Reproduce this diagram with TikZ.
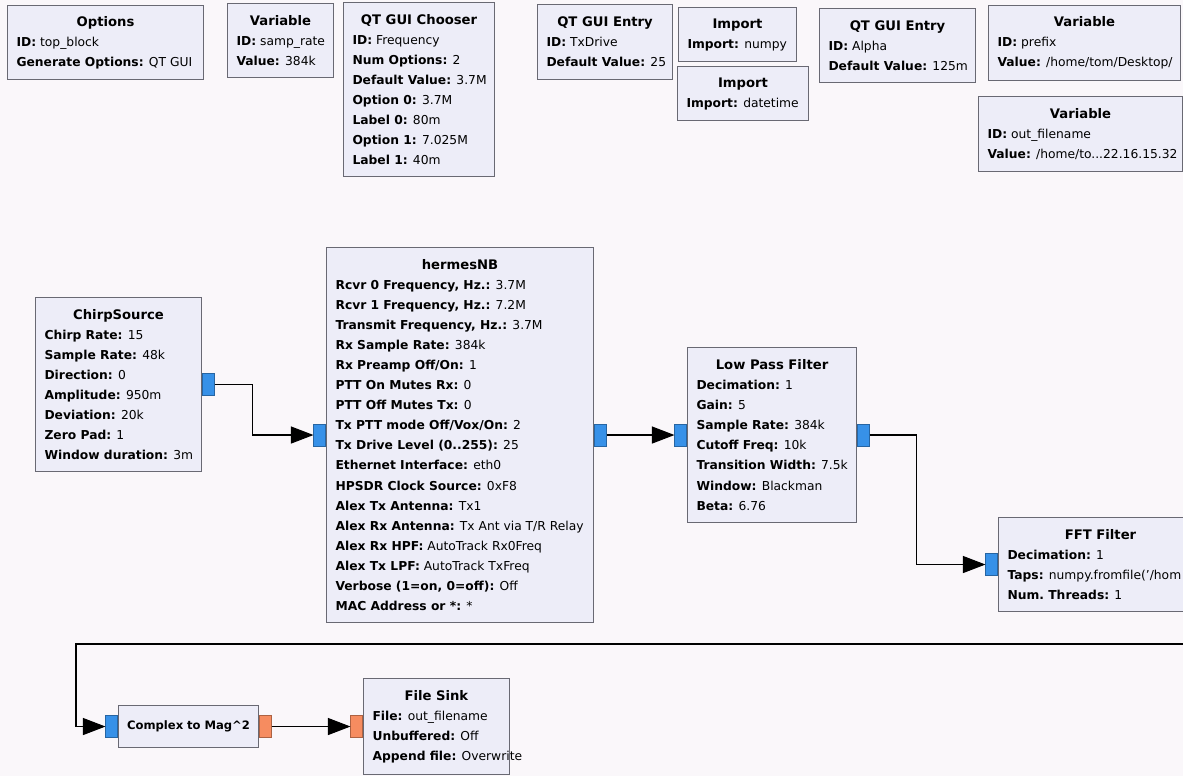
\documentclass[tikz,border=0pt]{standalone}
\usepackage{fontspec}
\setmainfont{DejaVu Sans}
\usetikzlibrary{arrows.meta}
\definecolor{canvas}{RGB}{250,247,250}
\definecolor{blockfill}{RGB}{237,237,248}
\definecolor{blockline}{RGB}{105,105,115}
\definecolor{portblue}{RGB}{55,145,232}
\definecolor{portorange}{RGB}{246,140,96}
\newlength\px
\setlength\px{0.02cm}
\newcommand\blocktitle[1]{\hfill\mbox{\fontsize{7.5}{11.4}\selectfont\textbf{#1}}\hfill\null}
\newcommand\prm[2]{\mbox{\textbf{#1:} #2}}

\begin{document}
\begin{tikzpicture}[x=0.02cm, y=-0.02cm,
  block/.style={rectangle, draw=blockline, fill=blockfill, line width=0.6pt, anchor=north west,
    align=flush left, inner xsep=9\px, inner ysep=2\px, font=\fontsize{7}{11.4}\selectfont},
  port/.style={rectangle, minimum width=12\px, minimum height=22\px, inner sep=0pt,
    fill=portblue, draw=portblue!70!black, line width=0.3pt},
  inport/.style={port, anchor=east},
  outport/.style={port, anchor=west},
  floatport/.style={fill=portorange, draw=portorange!70!black},
  wire/.style={draw=black, line width=0.6pt, -{Triangle[length=4.5mm,width=3.4mm]}}
]
\path[use as bounding box, fill=canvas] (0,0) rectangle (1183,776);
\clip (0,0) rectangle (1183,776);

\node[block, text width=178\px, minimum height=74\px] (options) at (7,5)
  {\blocktitle{Options}\\\prm{ID}{top\_block}\\\prm{Generate Options}{QT GUI}};
\node[block, text width=88\px, minimum height=74\px] (samprate) at (227,3)
  {\blocktitle{Variable}\\\prm{ID}{samp\_rate}\\\prm{Value}{384k}};
\node[block, text width=133\px, minimum height=174\px] (chooser) at (343,2)
  {\blocktitle{QT GUI Chooser}\\\prm{ID}{Frequency}\\\prm{Num Options}{2}\\\prm{Default Value}{3.7M}\\
   \prm{Option 0}{3.7M}\\\prm{Label 0}{80m}\\\prm{Option 1}{7.025M}\\\prm{Label 1}{40m}};
\node[block, text width=117\px, minimum height=75\px] (txdrive) at (537,4)
  {\blocktitle{QT GUI Entry}\\\prm{ID}{TxDrive}\\\prm{Default Value}{25}};
\node[block, text width=100\px, minimum height=54\px] (numpy) at (678,7)
  {\blocktitle{Import}\\\prm{Import}{numpy}};
\node[block, text width=113\px, minimum height=54\px] (datetime) at (677,66)
  {\blocktitle{Import}\\\prm{Import}{datetime}};
\node[block, text width=138\px, minimum height=74\px] (alpha) at (819,8)
  {\blocktitle{QT GUI Entry}\\\prm{ID}{Alpha}\\\prm{Default Value}{125m}};
\node[block, text width=174\px, minimum height=75\px] (prefix) at (988,5)
  {\blocktitle{Variable}\\\prm{ID}{prefix}\\\prm{Value}{/home/tom/Desktop/}};
\node[block, text width=186\px, minimum height=75\px] (outfile) at (978,96)
  {\blocktitle{Variable}\\\prm{ID}{out\_filename}\\\prm{Value}{/home/to...22.16.15.32}};

\node[block, text width=148\px, minimum height=174\px] (chirp) at (35,297)
  {\blocktitle{ChirpSource}\\\prm{Chirp Rate}{15}\\\prm{Sample Rate}{48k}\\\prm{Direction}{0}\\
   \prm{Amplitude}{950m}\\\prm{Deviation}{20k}\\\prm{Zero Pad}{1}\\\prm{Window duration}{3m}};
\node[block, text width=249\px, minimum height=375\px] (hermes) at (326,247)
  {\blocktitle{hermesNB}\\\prm{Rcvr 0 Frequency, Hz.}{3.7M}\\\prm{Rcvr 1 Frequency, Hz.}{7.2M}\\
   \prm{Transmit Frequency, Hz.}{3.7M}\\\prm{Rx Sample Rate}{384k}\\\prm{Rx Preamp Off/On}{1}\\
   \prm{PTT On Mutes Rx}{0}\\\prm{PTT Off Mutes Tx}{0}\\\prm{Tx PTT mode Off/Vox/On}{2}\\
   \prm{Tx Drive Level (0..255)}{25}\\\prm{Ethernet Interface}{eth0}\\\prm{HPSDR Clock Source}{0xF8}\\
   \prm{Alex Tx Antenna}{Tx1}\\\prm{Alex Rx Antenna}{Tx Ant via T/R Relay}\\
   \prm{Alex Rx HPF}{AutoTrack Rx0Freq}\\\prm{Alex Tx LPF}{AutoTrack TxFreq}\\
   \prm{Verbose (1=on, 0=off)}{Off}\\\prm{MAC Address or *}{*}};
\node[block, text width=151\px, minimum height=175\px] (lpf) at (687,347)
  {\blocktitle{Low Pass Filter}\\\prm{Decimation}{1}\\\prm{Gain}{5}\\\prm{Sample Rate}{384k}\\
   \prm{Cutoff Freq}{10k}\\\prm{Transition Width}{7.5k}\\\prm{Window}{Blackman}\\\prm{Beta}{6.76}};
\node[block, text width=186\px, minimum height=94\px] (fft) at (998,517)
  {\blocktitle{FFT Filter}\\\prm{Decimation}{1}\\\prm{Taps}{numpy.fromfile('/hom}\\\prm{Num.\ Threads}{1}};
\node[block, align=center, inner xsep=2\px, text width=136\px, minimum height=42\px,
  font=\fontsize{6.6}{11.4}\selectfont] (cmag) at (118,705)
  {\textbf{Complex to Mag\textasciicircum 2}};
\node[block, text width=128\px, minimum height=96\px] (fsink) at (363,678)
  {\blocktitle{File Sink}\\\prm{File}{out\_filename}\\\prm{Unbuffered}{Off}\\\prm{Append file}{Overwrite}};

\node[outport] (chirp-out) at (chirp.east) {};
\node[inport] (hermes-in) at (hermes.west) {};
\node[outport] (hermes-out) at (hermes.east) {};
\node[inport] (lpf-in) at (lpf.west) {};
\node[outport] (lpf-out) at (lpf.east) {};
\node[inport] (fft-in) at (fft.west) {};
\node[outport] (fft-out) at (fft.east) {};
\node[inport] (cmag-in) at (cmag.west) {};
\node[outport, floatport] (cmag-out) at (cmag.east) {};
\node[inport, floatport] (fsink-in) at (fsink.west) {};
\coordinate (loop) at (76,644);

\draw[wire] (chirp-out.east) -- ++(38,0) |- (hermes-in.west);
\draw[wire] (hermes-out.east) -- (lpf-in.west);
\draw[wire] (lpf-out.east) -- ++(47,0) |- (fft-in.west);
\draw[wire] (fft-out.east) -- ++(10,0) |- (loop) |- (cmag-in.west);
\draw[wire] (cmag-out.east) -- (fsink-in.west);
\end{tikzpicture}
\end{document}
